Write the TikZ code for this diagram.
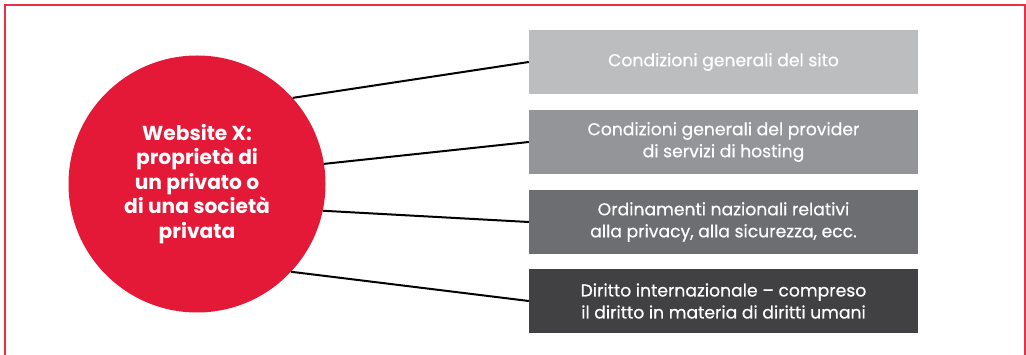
\documentclass[tikz,border=0pt]{standalone}
\usepackage{fontspec}
\setmainfont{Poppins}
\newfontfamily\boxfont[FakeBold=0.5]{Poppins}
\definecolor{framered}{HTML}{E8304A}
\definecolor{circred}{HTML}{E31937}
\definecolor{g1}{HTML}{BCBDBF}
\definecolor{g2}{HTML}{939598}
\definecolor{g3}{HTML}{6D6E71}
\definecolor{g4}{HTML}{414042}
\begin{document}
\begin{tikzpicture}[x=1pt,y=-1pt,
  lawbox/.style={minimum width=389pt,minimum height=64pt,inner sep=0pt,text=white,align=center,font=\boxfont\fontsize{17.2}{22}\selectfont},
  link/.style={line width=2pt,black}]
\useasboundingbox (0,0) rectangle (1026,355);
\draw[framered,line width=2pt] (5,356) -- (5,5) -- (1025,5) -- (1025,356);
\node[circle,fill=circred,minimum size=257pt,inner sep=0pt,text=white,align=center,
  font=\fontsize{20.2}{24.5}\selectfont\bfseries] (c) at (197,184)
  {Website X:\\proprietà di\\un privato o\\di una società\\privata};
\node[lawbox,fill=g1] (b1) at (723.5,62) {Condizioni generali del sito};
\node[lawbox,fill=g2] (b2) at (723.5,142) {Condizioni generali del provider\\di servizi di hosting};
\node[lawbox,fill=g3] (b3) at (723.5,222) {Ordinamenti nazionali relativi\\alla privacy, alla sicurezza, ecc.};
\node[lawbox,fill=g4] (b4) at (723.5,301) {Diritto internazionale – compreso\\il diritto in materia di diritti umani};
\draw[link] (c.42.5) -- (b1.west);
\draw[link] (c.9.9) -- (b2.west);
\draw[link] (c.-12.2) -- (b3.west);
\draw[link] (c.-43.4) -- (b4.west);
\end{tikzpicture}
\end{document}
